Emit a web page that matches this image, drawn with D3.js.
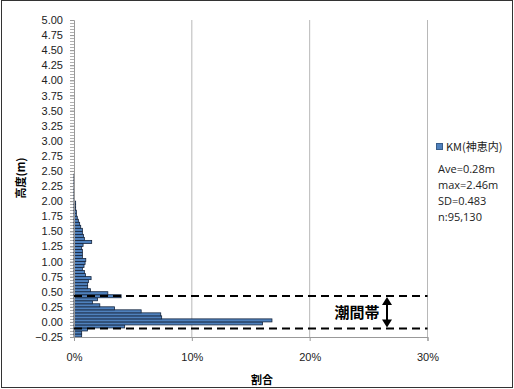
<!DOCTYPE html>
<html><head><meta charset="utf-8">
<script src="https://cdn.jsdelivr.net/npm/d3@7"></script>
<style>
body{margin:0;background:#fff;}
svg text{font-family:"Liberation Sans",Arial,sans-serif;}
</style></head>
<body><svg id="c" width="514" height="389"></svg>
<script>
// bin lower edges (m)
const binEdges = [-0.25,-0.20,-0.15,-0.10,-0.05,0.00,0.05,0.10,0.15,0.20,0.25,0.30,0.35,0.40,0.45,0.50,0.55,0.60,0.65,0.70,0.75,0.80,0.85,0.90,0.95,1.00,1.05,1.10,1.15,1.20,1.25,1.30,1.35,1.40,1.45,1.50,1.55,1.60,1.65,1.70,1.75,1.80,1.85,1.90,1.95,2.00,2.05,2.10,2.15,2.20,2.25,2.30,2.35,2.40];
// share (%)
const shares = [0.65,0.65,1.14,4.3,16.0,16.8,7.44,7.36,5.7,3.44,2.19,1.56,2.0,4.0,2.87,1.39,1.16,1.16,1.22,1.45,0.97,0.88,0.71,0.85,0.94,1.0,0.71,0.71,0.71,0.65,0.77,1.5,0.88,0.8,0.71,0.71,0.57,0.48,0.37,0.28,0.2,0.2,0.14,0.14,0.14,0.05,0.04,0.03,0.03,0.02,0.02,0.01,0.01,0.01];
const binWidth = 0.05;
const yTicks = [-0.25,0,0.25,0.5,0.75,1,1.25,1.5,1.75,2,2.25,2.5,2.75,3,3.25,3.5,3.75,4,4.25,4.5,4.75,5];
const xTicks = [0,10,20,30];
const tidalLines = [0.43,-0.11];
const seriesName = "KM(神恵内)";
const statsText = ["Ave=0.28m","max=2.46m","SD=0.483","n:95,130"];

const svg = d3.select("#c");
svg.append("rect").attr("x",1.5).attr("y",0.5).attr("width",511).attr("height",387)
  .attr("fill","#fff").attr("stroke","#333").attr("stroke-width",1);

const x = d3.scaleLinear().domain([0,30]).range([74,427.5]);
const y = d3.scaleLinear().domain([-0.25,5]).range([337,20]);

// gridlines
svg.append("g").selectAll("line").data(xTicks.slice(1)).join("line")
  .attr("x1",d=>x(d)).attr("x2",d=>x(d)).attr("y1",y(5)).attr("y2",y(-0.25))
  .attr("stroke","#b8b8b8").attr("stroke-width",1);

// minor ticks on y
const minor = d3.range(0,106).map(i=>-0.25+i*0.05);
svg.append("g").selectAll("line").data(minor).join("line")
  .attr("x1",70).attr("x2",74).attr("y1",d=>Math.round(y(d))+0.5).attr("y2",d=>Math.round(y(d))+0.5)
  .attr("stroke","#b0b0b0").attr("stroke-width",1);

// bars
const data = binEdges.map((e,i)=>({e, v:shares[i]}));
svg.append("g").selectAll("rect").data(data).join("rect")
  .attr("x",x(0)).attr("y",d=>y(d.e+binWidth))
  .attr("width",d=>x(d.v)-x(0)).attr("height",d=>y(d.e)-y(d.e+binWidth))
  .attr("fill","#4f81bd").attr("stroke","#14243c").attr("stroke-width",0.8);

// axes
const yAxis = d3.axisLeft(y).tickValues(yTicks).tickFormat(d3.format(".2f")).tickSize(4);
const gy = svg.append("g").attr("transform","translate(74,0)").call(yAxis);
gy.select(".domain").attr("stroke","#999");
gy.selectAll(".tick line").attr("stroke","#999");
gy.selectAll("text").attr("font-size",11).attr("fill","#222").attr("x",-11)
  .text(d=>d3.format(".2f")(d).replace("-","\u2212"));

const xAxis = d3.axisBottom(x).tickValues(xTicks).tickFormat(d=>d+"%").tickSize(4);
const gx = svg.append("g").attr("transform","translate(0,337)").call(xAxis);
gx.select(".domain").attr("stroke","#999");
gx.selectAll(".tick line").attr("stroke","#999");
gx.selectAll("text").attr("font-size",11).attr("fill","#222").attr("dy","1.5em");

// axis titles
svg.append("text").attr("transform","translate(25,178) rotate(-90)")
  .attr("text-anchor","middle").attr("font-size",11).attr("font-weight","bold")
  .style("font-family","'Noto Sans CJK JP',sans-serif").text("高度(m)");
svg.append("text").attr("x",262).attr("y",384).attr("text-anchor","middle")
  .attr("font-size",11).attr("font-weight","bold")
  .style("font-family","'Noto Sans CJK JP',sans-serif").text("割合");

// tidal dashed lines
svg.append("g").selectAll("line").data(tidalLines).join("line")
  .attr("x1",x(0)).attr("x2",x(30)).attr("y1",d=>y(d)).attr("y2",d=>y(d))
  .attr("stroke","#000").attr("stroke-width",2).attr("stroke-dasharray","8,5");

// double arrow
const ax = 387;
const yt = y(tidalLines[0])+1, yb = y(tidalLines[1])-1;
svg.append("line").attr("x1",ax).attr("x2",ax).attr("y1",yt+6).attr("y2",yb-6)
  .attr("stroke","#000").attr("stroke-width",2);
svg.append("path").attr("d",`M${ax},${yt} L${ax-5},${yt+8} L${ax+5},${yt+8} Z`).attr("fill","#000");
svg.append("path").attr("d",`M${ax},${yb} L${ax-5},${yb-8} L${ax+5},${yb-8} Z`).attr("fill","#000");
svg.append("text").attr("x",357).attr("y",(yt+yb)/2+5.5).attr("text-anchor","middle")
  .attr("font-size",15).attr("font-weight","bold")
  .style("font-family","'Noto Sans CJK JP',sans-serif").text("潮間帯");

// legend
svg.append("rect").attr("x",436.5).attr("y",143.5).attr("width",6).attr("height",6)
  .attr("fill","#4f81bd").attr("stroke","#385d8a");
svg.append("text").attr("x",446).attr("y",151).attr("font-size",11)
  .style("font-family","'Noto Sans CJK JP',sans-serif").attr("fill","#222").text(seriesName);
svg.append("g").selectAll("text").data(statsText).join("text")
  .attr("x",438).attr("y",(d,i)=>172.5+i*16.3).attr("font-size",11).attr("fill","#222")
  .style("font-family","'Open Sans',sans-serif").text(d=>d);
</script></body></html>
